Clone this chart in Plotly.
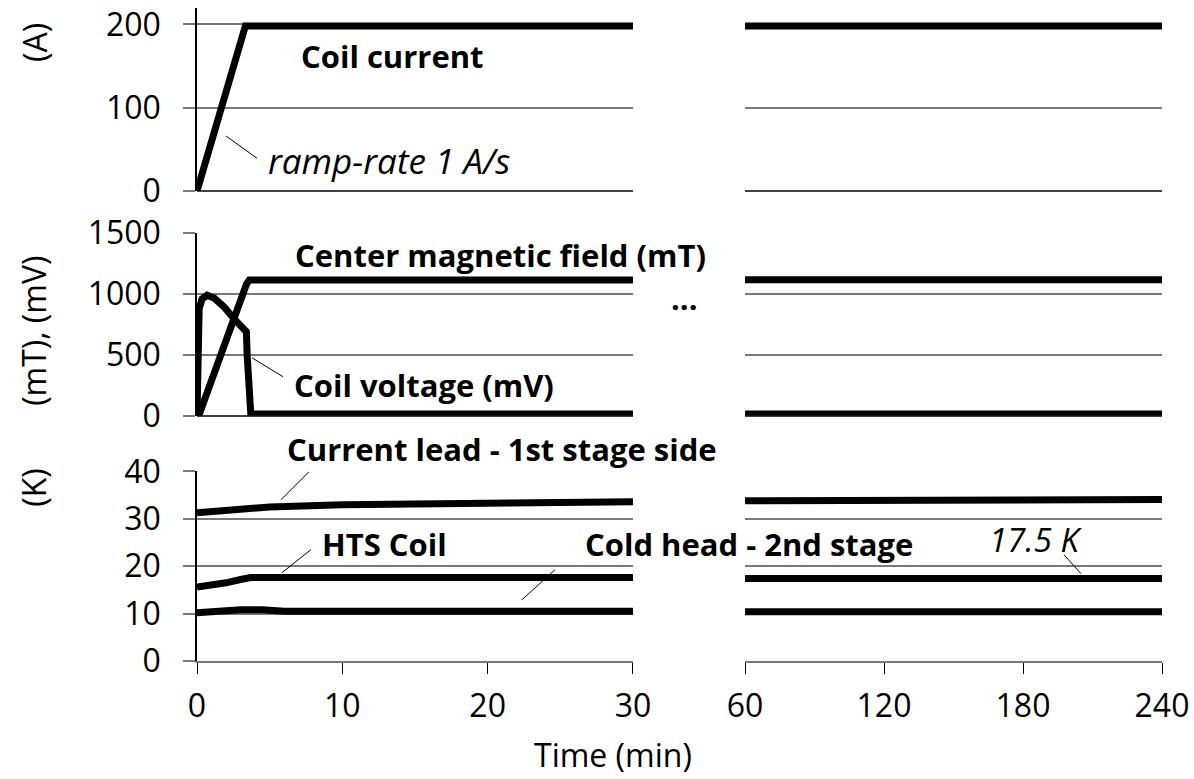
import plotly.graph_objects as go

# ---------------- data ----------------
# Coil current (A)
t_cur_l = [0, 3.33, 30]
cur_l = [0, 198, 198]
t_cur_r = [60, 240]
cur_r = [198, 198]

# Center magnetic field (mT)
t_b_l = [0, 0.15, 3.4, 3.6, 30]
b_l = [0, 10, 1080, 1115, 1115]
t_b_r = [60, 240]
b_r = [1118, 1118]

# Coil voltage (mV)
t_v_l = [0, 0.05, 0.15, 0.35, 0.7, 1.2, 1.9, 2.6, 3.4, 3.45, 3.55, 3.7, 4.0, 30]
v_l = [0, 600, 880, 960, 990, 965, 890, 790, 690, 500, 150, 20, 15, 15]
t_v_r = [60, 240]
v_r = [15, 15]

# Current lead - 1st stage side (K)
t_cl_l = [0, 2, 5, 10, 15, 20, 30]
cl_l = [31.3, 31.8, 32.5, 33.0, 33.2, 33.4, 33.6]
t_cl_r = [60, 87, 88, 240]
cl_r = [33.8, 33.8, 34.1, 34.1]

# HTS coil (K)
t_hts_l = [0, 1, 2, 3, 3.7, 30]
hts_l = [15.6, 15.9, 16.5, 17.2, 17.6, 17.6]
t_hts_r = [60, 240]
hts_r = [17.4, 17.4]

# Cold head - 2nd stage (K)
t_ch_l = [0, 1, 3, 4.5, 6, 30]
ch_l = [10.2, 10.5, 10.8, 10.8, 10.5, 10.5]
t_ch_r = [60, 240]
ch_r = [10.4, 10.4]

ticks_left = [0, 10, 20, 30]
ticks_right = [60, 120, 180, 240]
ticks_a = [0, 100, 200]
ticks_mv = [0, 500, 1000, 1500]
ticks_k = [0, 10, 20, 30, 40]

# ---------------- figure ----------------
FONT = "Open Sans"
fig = go.Figure()


def add(x, y, xa, ya):
    fig.add_trace(go.Scatter(x=x, y=y, mode="lines",
                             line=dict(color="black", width=7),
                             xaxis=xa, yaxis=ya, showlegend=False,
                             hoverinfo="skip"))


add(t_cur_l, cur_l, "x", "y")
add(t_cur_r, cur_r, "x2", "y2")
add(t_b_l, b_l, "x3", "y3")
add(t_v_l, v_l, "x3", "y3")
add(t_b_r, b_r, "x4", "y4")
add(t_v_r, v_r, "x4", "y4")
add(t_cl_l, cl_l, "x5", "y5")
add(t_hts_l, hts_l, "x5", "y5")
add(t_ch_l, ch_l, "x5", "y5")
add(t_cl_r, cl_r, "x6", "y6")
add(t_hts_r, hts_r, "x6", "y6")
add(t_ch_r, ch_r, "x6", "y6")

xL = [0, 0.4518]
xR = [0.5679, 1]
yTop = [0.7199, 1]
yMid = [0.3755, 0.6551]
yBot = [0, 0.2902]

GRID = "#7a7a7a"
tickfont = dict(family=FONT, size=32, color="black")


def yleft(domain, rng, tv, anchor):
    return dict(domain=domain, range=rng, tickvals=tv, anchor=anchor,
                showline=True, linecolor="black", linewidth=1.5,
                ticks="outside", ticklen=12, tickcolor=GRID, tickwidth=1.5,
                showgrid=True, gridcolor=GRID, gridwidth=1.5,
                zeroline=True, zerolinecolor="#404040", zerolinewidth=1.5,
                tickfont=tickfont, ticklabelstandoff=16, fixedrange=True,
                automargin=False)


def yright(domain, rng, tv, anchor):
    return dict(domain=domain, range=rng, tickvals=tv, anchor=anchor,
                showline=False, ticks="", showticklabels=False,
                showgrid=True, gridcolor=GRID, gridwidth=1.5,
                zeroline=True, zerolinecolor="#404040", zerolinewidth=1.5,
                fixedrange=True, automargin=False)


def xhidden(domain, rng, anchor):
    return dict(domain=domain, range=rng, anchor=anchor, visible=False,
                fixedrange=True, automargin=False)


def xbottom(domain, rng, tv, anchor):
    return dict(domain=domain, range=rng, tickvals=tv, anchor=anchor,
                showline=True, linecolor=GRID, linewidth=2,
                ticks="outside", ticklen=11, tickcolor="black", tickwidth=1,
                showgrid=False, zeroline=False, tickfont=tickfont,
                ticklabelstandoff=5, fixedrange=True, automargin=False)


fig.update_layout(
    width=1194, height=779,
    margin=dict(l=197, r=32, t=8, b=118, autoexpand=False),
    paper_bgcolor="white", plot_bgcolor="white",
    font=dict(family=FONT, color="black"),
    showlegend=False,
    xaxis=xhidden(xL, [0, 30], "y"),
    xaxis2=xhidden(xR, [60, 240], "y2"),
    xaxis3=xhidden(xL, [0, 30], "y3"),
    xaxis4=xhidden(xR, [60, 240], "y4"),
    xaxis5=xbottom(xL, [0, 30], ticks_left, "y5"),
    xaxis6=xbottom(xR, [60, 240], ticks_right, "y6"),
    yaxis=yleft(yTop, [0, 219.6], ticks_a, "x"),
    yaxis2=yright(yTop, [0, 219.6], ticks_a, "x2"),
    yaxis3=yleft(yMid, [0, 1500], ticks_mv, "x3"),
    yaxis4=yright(yMid, [0, 1500], ticks_mv, "x4"),
    yaxis5=yleft(yBot, [0, 40], ticks_k, "x5"),
    yaxis6=yright(yBot, [0, 40], ticks_k, "x6"),
)


def ann(text, x, y, size=31, angle=0, xanchor="center"):
    fig.add_annotation(text=text, x=x, y=y, xref="paper", yref="paper",
                       showarrow=False, xanchor=xanchor, yanchor="middle",
                       textangle=angle,
                       font=dict(family=FONT, size=size, color="black"))


ann("<b>Coil current</b>", 0.2031, 0.9265)
ann("<i>ramp-rate 1 A/s</i>", 0.1990, 0.7658, size=35)
ann("<b>Center magnetic field (mT)</b>", 0.3150, 0.6219)
ann("<b>...</b>", 0.5047, 0.5561)
ann("<b>Coil voltage (mV)</b>", 0.0985, 0.4229, xanchor="left")
ann("<b>Current lead - 1st stage side</b>", 0.3161, 0.3250)
ann("<b>HTS Coil</b>", 0.1938, 0.1796)
ann("<b>Cold head - 2nd stage</b>", 0.5720, 0.1796)
ann("<i>17.5 K</i>", 0.8684, 0.1857, size=33)

ann("(A)", -0.1689, 0.9464, size=32, angle=-90)
ann("(mT), (mV)", -0.1689, 0.5056, size=32, angle=-90)
ann("(K)", -0.1689, 0.2653, size=32, angle=-90)
ann("Time (min)", 0.431, -0.143, size=32)

# leader lines
leaders = [
    (0.0301, 0.8040, 0.0622, 0.7699),
    (0.0570, 0.4643, 0.0891, 0.4354),
    (0.0870, 0.2469, 0.1160, 0.2898),
    (0.0881, 0.1354, 0.1181, 0.1705),
    (0.3368, 0.0938, 0.3710, 0.1398),
    (0.8984, 0.1627, 0.9161, 0.1336),
]
for x0, y0, x1, y1 in leaders:
    fig.add_shape(type="line", xref="paper", yref="paper",
                  x0=x0, y0=y0, x1=x1, y1=y1,
                  line=dict(color="black", width=1))

fig.write_html("out.html")
